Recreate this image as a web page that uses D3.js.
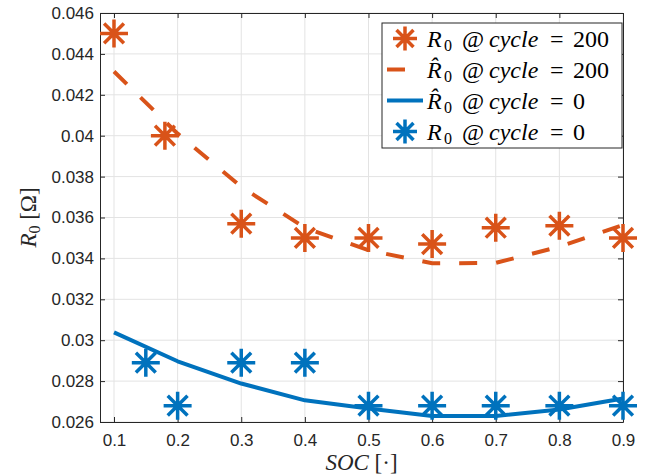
<!DOCTYPE html>
<html><head><meta charset="utf-8">
<script src="https://cdn.jsdelivr.net/npm/d3@7"></script>
<style>body{margin:0;background:#fff} svg{display:block}</style>
</head><body>
<svg id="c" width="653" height="476"></svg>
<script>
// ---- data ----
const socFit = [0.1, 0.2, 0.3, 0.4, 0.5, 0.6, 0.7, 0.8, 0.9];
const r0Hat200 = [0.04314, 0.0401, 0.0375, 0.0355, 0.0344, 0.03376, 0.03378, 0.03457, 0.03563];
const r0Hat0 = [0.03038, 0.02897, 0.02788, 0.02706, 0.02666, 0.02629, 0.02629, 0.02661, 0.02715];
const soc200 = [0.1, 0.18, 0.3, 0.4, 0.5, 0.6, 0.7, 0.8, 0.9];
const r0Meas200 = [0.0450, 0.0400, 0.0357, 0.0350, 0.0350, 0.0347, 0.0355, 0.0356, 0.0350];
const soc0 = [0.15, 0.2, 0.3, 0.4, 0.5, 0.6, 0.7, 0.8, 0.9];
const r0Meas0 = [0.0289, 0.0268, 0.0289, 0.0289, 0.0268, 0.0268, 0.0268, 0.0268, 0.0268];
const xTicks = [0.1, 0.2, 0.3, 0.4, 0.5, 0.6, 0.7, 0.8, 0.9];
const xTickLabels = ["0.1", "0.2", "0.3", "0.4", "0.5", "0.6", "0.7", "0.8", "0.9"];
const yTicks = [0.026, 0.028, 0.030, 0.032, 0.034, 0.036, 0.038, 0.040, 0.042, 0.044, 0.046];
const yTickLabels = ["0.026", "0.028", "0.03", "0.032", "0.034", "0.036", "0.038", "0.04", "0.042", "0.044", "0.046"];
const legendNumbers = ["200", "200", "0", "0"];

// ---- layout ----
const L = 100, R = 623, T = 13, B = 422;
const ORANGE = "#D95319", BLUE = "#0072BD", AX = "#262626", GRID = "#e3e3e3";
const svg = d3.select("#c");
const x = d3.scaleLinear().domain([0.078, 0.9]).range([L, R]);
const y = d3.scaleLinear().domain([0.026, 0.046]).range([B, T]);

// grid
const grid = svg.append("g");
grid.selectAll(".gx").data(xTicks).join("line")
  .attr("x1", d => x(d)).attr("x2", d => x(d)).attr("y1", T).attr("y2", B)
  .attr("stroke", GRID).attr("stroke-width", 1);
grid.selectAll(".gy").data(yTicks).join("line")
  .attr("y1", d => y(d)).attr("y2", d => y(d)).attr("x1", L).attr("x2", R)
  .attr("stroke", GRID).attr("stroke-width", 1);

// axes
function styleAxis(g) {
  g.attr("color", AX).attr("font-family", "'Liberation Sans', Arial, sans-serif").attr("font-size", 17);
  g.selectAll("text").attr("fill", AX);
  g.selectAll("path,line").attr("stroke", AX).attr("stroke-width", 1);
}
svg.append("g").attr("transform", `translate(0,${B})`)
  .call(d3.axisBottom(x).tickValues(xTicks).tickFormat((d, i) => xTickLabels[i]).tickSize(-5).tickSizeOuter(0).tickPadding(12))
  .call(styleAxis);
svg.append("g").attr("transform", `translate(0,${T})`)
  .call(d3.axisTop(x).tickValues(xTicks).tickFormat("").tickSize(-5).tickSizeOuter(0))
  .call(styleAxis);
svg.append("g").attr("transform", `translate(${L},0)`)
  .call(d3.axisLeft(y).tickValues(yTicks).tickFormat((d, i) => yTickLabels[i]).tickSize(-5).tickSizeOuter(0).tickPadding(6))
  .call(styleAxis);
svg.append("g").attr("transform", `translate(${R},0)`)
  .call(d3.axisRight(y).tickValues(yTicks).tickFormat("").tickSize(-5).tickSizeOuter(0))
  .call(styleAxis);

// asterisk marker (8 arms)
const asterisk = {
  draw(ctx, size) {
    const r = Math.sqrt(size), d = r * Math.SQRT1_2;
    ctx.moveTo(-r, 0); ctx.lineTo(r, 0);
    ctx.moveTo(0, -r); ctx.lineTo(0, r);
    ctx.moveTo(-d, -d); ctx.lineTo(d, d);
    ctx.moveTo(-d, d); ctx.lineTo(d, -d);
  }
};
const sym = d3.symbol().type(asterisk).size(14 * 14);
const symL = d3.symbol().type(asterisk).size(12 * 12);

const line = d3.line().x(d => x(d[0])).y(d => y(d[1]));

// series 1: measured cycle 200
svg.append("g").selectAll("path").data(d3.zip(soc200, r0Meas200)).join("path")
  .attr("transform", d => `translate(${x(d[0])},${y(d[1])})`)
  .attr("d", sym).attr("fill", "none").attr("stroke", ORANGE).attr("stroke-width", 3.5);
// series 2: fitted cycle 200
svg.append("path").datum(d3.zip(socFit, r0Hat200)).attr("d", line)
  .attr("fill", "none").attr("stroke", ORANGE).attr("stroke-width", 4).attr("stroke-dasharray", "18,19");
// series 3: fitted cycle 0
svg.append("path").datum(d3.zip(socFit, r0Hat0)).attr("d", line)
  .attr("fill", "none").attr("stroke", BLUE).attr("stroke-width", 4).attr("stroke-linejoin", "round");
// series 4: measured cycle 0
svg.append("g").selectAll("path").data(d3.zip(soc0, r0Meas0)).join("path")
  .attr("transform", d => `translate(${x(d[0])},${y(d[1])})`)
  .attr("d", sym).attr("fill", "none").attr("stroke", BLUE).attr("stroke-width", 3.5);

// axis labels
const SERIF = "'Liberation Serif', 'Times New Roman', serif";
const xl = svg.append("text").attr("x", (L + R) / 2).attr("y", 470).attr("text-anchor", "middle")
  .attr("font-family", SERIF).attr("font-size", 23).attr("fill", AX);
xl.append("tspan").attr("font-style", "italic").text("SOC");
xl.append("tspan").text(" [·]");

const yl = svg.append("text").attr("transform", `translate(36,${(T + B) / 2}) rotate(-90)`).attr("text-anchor", "middle")
  .attr("font-family", SERIF).attr("font-size", 23).attr("fill", AX);
yl.append("tspan").attr("font-style", "italic").text("R");
yl.append("tspan").attr("font-size", 16).attr("dy", 4).text("0");
yl.append("tspan").attr("dy", -4).text(" [Ω]");

// legend
const lg = svg.append("g");
lg.append("rect").attr("x", 382).attr("y", 23).attr("width", 240).attr("height", 125)
  .attr("fill", "#fff").attr("stroke", AX).attr("stroke-width", 1);
const rows = [
  { c: ORANGE, kind: "marker", hat: false },
  { c: ORANGE, kind: "dash", hat: true },
  { c: BLUE, kind: "line", hat: true },
  { c: BLUE, kind: "marker", hat: false }
];
const rowY = [38.5, 69.5, 100.5, 131.5];
rows.forEach((r, i) => {
  const cy = rowY[i];
  if (r.kind === "marker") {
    lg.append("path").attr("transform", `translate(405,${cy})`).attr("d", symL)
      .attr("fill", "none").attr("stroke", r.c).attr("stroke-width", 3.5);
  } else {
    lg.append("line").attr("x1", 387).attr("x2", 423).attr("y1", cy).attr("y2", cy)
      .attr("stroke", r.c).attr("stroke-width", 4).attr("stroke-dasharray", r.kind === "dash" ? "18,19" : null);
  }
  const bx = 427, by = cy + 8;
  const t = lg.append("text").attr("y", by).attr("font-family", SERIF).attr("font-size", 24).attr("fill", "#000");
  t.append("tspan").attr("x", bx).attr("font-style", "italic").text(r.hat ? "R\u0302" : "R");
  t.append("tspan").attr("x", bx + 17).attr("font-size", 16).attr("dy", 4).text("0");
  t.append("tspan").attr("x", bx + 35).attr("dy", -4).text("@");
  t.append("tspan").attr("x", bx + 62).attr("font-style", "italic").text("cycle");
  t.append("tspan").attr("x", bx + 123).text("=");
  t.append("tspan").attr("x", bx + 146).text(legendNumbers[i]);
});
</script>
</body></html>
